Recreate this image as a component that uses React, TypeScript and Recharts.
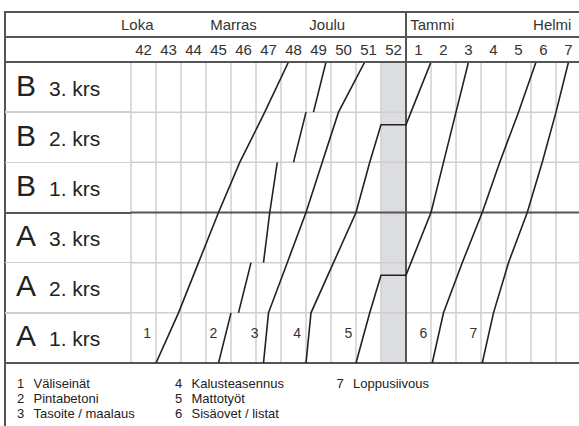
import React from 'react';
import { ComposedChart, Line, XAxis, YAxis, ReferenceLine, ReferenceArea, ReferenceDot } from 'recharts';

// week columns, left to right
const weeks = ['42', '43', '44', '45', '46', '47', '48', '49', '50', '51', '52', '1', '2', '3', '4', '5', '6', '7'];
const months = ['Loka', 'Marras', 'Joulu', 'Tammi', 'Helmi'];
const monthAt = [0.25, 4.1, 7.85, 12.05, 16.85];
const holidayCol = 10; // week 52
const yearBreak = 11;

// rows, bottom to top
const blocks = ['A', 'A', 'A', 'B', 'B', 'B'];
const floors = ['1. krs', '2. krs', '3. krs', '1. krs', '2. krs', '3. krs'];
const heavyRows = [0, 3, 6];

const taskIds = ['1', '2', '3', '4', '5', '6', '7'];
const taskNames = ['Väliseinät', 'Pintabetoni', 'Tasoite / maalaus', 'Kalusteasennus', 'Mattotyöt', 'Sisäovet / listat', 'Loppusiivous'];
const taskLabelAt = [0.65, 3.3, 4.95, 6.65, 8.7, 11.7, 13.7];
const taskLabelFloor = 0.6;

// [week position, floor level]
const valiseinat = [[1.0, 0], [1.9, 1], [2.7, 2], [3.5, 3], [4.35, 4], [5.35, 5], [6.3, 6]];
const pintabetoni = [
  [[3.5, 0], [4.0, 1]],
  [[4.3, 1], [4.8, 2]],
  [[5.3, 2], [5.55, 3], [5.85, 4]],
  [[6.5, 4], [7.0, 5]],
  [[7.3, 5], [7.8, 6]],
];
const tasoite = [[5.3, 0], [5.5, 1], [6.25, 2], [7.0, 3], [7.65, 4], [8.3, 5], [9.35, 6]];
const kalusteet = [[7.0, 0], [7.2, 1], [8.1, 2], [9.0, 3], [9.55, 4], [10.0, 4.75], [11.0, 4.75], [11.2, 5], [12.0, 6]];
const matot = [[9.0, 0], [9.55, 1], [10.0, 1.75], [11.0, 1.75], [11.2, 2], [12.0, 3], [12.5, 4], [13.0, 5], [13.5, 6]];
const ovet = [[12.05, 0], [12.5, 1], [13.25, 2], [14.05, 3], [14.75, 4], [15.5, 5], [16.2, 6]];
const siivous = [[14.05, 0], [14.5, 1], [15.1, 2], [15.85, 3], [16.45, 4], [17.0, 5], [17.5, 6]];

const segments = [[valiseinat], pintabetoni, [tasoite], [kalusteet], [matot], [ovet], [siivous]].flat();
const toPoints = (s: number[][]) => s.map(([u, f]) => ({ u, f }));

const FONT = '"Liberation Sans", Arial, Helvetica, sans-serif';
const INK = '#222';
const DARK = '#555';
const LIGHT = '#cfcfcf';

const PLOT_L = 131;
const PLOT_T = 62;
const ROW_H = 50.17;

const WeekTick = (p: any) => (
  <text x={p.x} y={55} textAnchor="middle" fontSize={15} fill="#333">{weeks[Math.floor(p.payload.value)]}</text>
);
const MonthTick = (p: any) => {
  const i = monthAt.indexOf(p.payload.value);
  return <text x={p.x} y={30} textAnchor="middle" fontSize={15} fill="#333">{months[i]}</text>;
};
const RowTick = (p: any) => {
  const i = Math.floor(p.payload.value);
  return (
    <g>
      <text x={16} y={p.y + 8.5} fontSize={30} fill={INK}>{blocks[i]}</text>
      <text x={49} y={p.y + 8.5} fontSize={21} fill={INK}>{floors[i]}</text>
    </g>
  );
};

const Rule = ({ x, y, w, h, c }: { x: number; y: number; w: number; h: number; c: string }) => (
  <div style={{ position: 'absolute', left: x, top: y, width: w, height: h, background: c }} />
);

export default function App() {
  return (
    <div style={{ position: 'fixed', left: 0, top: 0, width: 579, height: 426, overflow: 'hidden', background: '#fff', fontFamily: FONT }}>
      <ComposedChart width={581} height={426} margin={{ top: 12, right: 0, bottom: 63, left: 5 }}>
        <XAxis xAxisId="week" orientation="top" type="number" dataKey="u" domain={[0, 18]} allowDataOverflow interval={0}
          ticks={weeks.map((_, i) => i + 0.5)} tick={<WeekTick />} axisLine={false} tickLine={false} height={25} />
        <XAxis xAxisId="month" orientation="top" type="number" dataKey="u" domain={[0, 18]} allowDataOverflow interval={0}
          ticks={monthAt} tick={<MonthTick />} axisLine={false} tickLine={false} height={25} />
        <YAxis type="number" domain={[0, 6]} allowDataOverflow interval={0} ticks={floors.map((_, i) => i + 0.5)}
          tick={<RowTick />} axisLine={false} tickLine={false} width={126} />

        <ReferenceArea xAxisId="week" x1={holidayCol} x2={holidayCol + 1} y1={0} y2={6} fill="#dcdde0" fillOpacity={1} stroke="none" />
        {weeks.map((_, i) => (i === yearBreak ? null : (
          <ReferenceLine key={'v' + i} xAxisId="week" x={i} stroke={LIGHT} strokeWidth={1.5} />
        )))}
        {[1, 2, 4, 5].map((k) => (
          <ReferenceLine key={'h' + k} xAxisId="week" y={k} stroke={LIGHT} strokeWidth={1.5} />
        ))}
        {heavyRows.map((k) => (
          <ReferenceLine key={'H' + k} xAxisId="week" y={k} stroke={DARK} strokeWidth={2} />
        ))}
        <ReferenceLine xAxisId="week" x={yearBreak} stroke={DARK} strokeWidth={2} />

        {segments.map((s, i) => (
          <Line key={'s' + i} xAxisId="week" data={toPoints(s)} dataKey="f" type="linear" stroke={INK}
            strokeWidth={1.6} dot={false} activeDot={false} isAnimationActive={false} />
        ))}

        {taskIds.map((id, i) => (
          <ReferenceDot key={'t' + id} xAxisId="week" x={taskLabelAt[i]} y={taskLabelFloor} r={0}
            shape={(p: any) => (
              <text x={p.cx} y={p.cy + 5} textAnchor="middle" fontSize={14} fill="#333">{id}</text>
            )} />
        ))}
      </ComposedChart>

      {/* frame outside the plot area */}
      <Rule x={4} y={11} w={2} h={415} c={DARK} />
      <Rule x={5} y={11} w={580} h={2} c={DARK} />
      <Rule x={5} y={36} w={580} h={1.5} c={DARK} />
      <Rule x={5} y={61} w={580} h={2} c={DARK} />
      <Rule x={PLOT_L + yearBreak * 25 - 1} y={11} w={2} h={51} c={DARK} />
      {floors.map((_, i) => {
        const k = i + 1;
        const y = PLOT_T + (6 - k) * ROW_H;
        if (k === 6 || k === 3) return null;
        return <Rule key={'l' + k} x={5} y={y - 0.75} w={PLOT_L - 5} h={1.5} c={LIGHT} />;
      })}
      <Rule x={5} y={PLOT_T + 3 * ROW_H - 1} w={PLOT_L - 5} h={2} c={DARK} />
      <Rule x={5} y={PLOT_T + 6 * ROW_H - 1} w={PLOT_L - 5} h={2} c={DARK} />

      <svg width={579} height={426} style={{ position: 'absolute', left: 0, top: 0, pointerEvents: 'none' }}>
        {taskNames.map((name, i) => {
          const col = Math.floor(i / 3);
          const row = i % 3;
          const x = [17, 175, 336.5][col];
          const y = 388 + row * 15;
          return (
            <g key={name}>
              <text x={x} y={y} fontSize={13} fill={INK}>{taskIds[i]}</text>
              <text x={x + 16.5} y={y} fontSize={13} fill={INK}>{name}</text>
            </g>
          );
        })}
      </svg>
    </div>
  );
}
